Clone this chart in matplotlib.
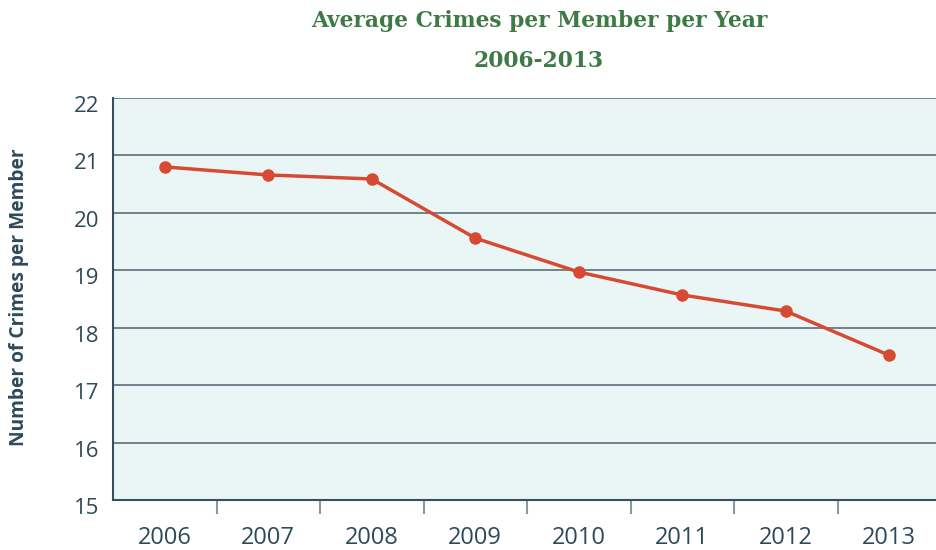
import matplotlib
matplotlib.use("Agg")
import matplotlib.pyplot as plt
import matplotlib.transforms as mtrans

years = ["2006", "2007", "2008", "2009", "2010", "2011", "2012", "2013"]
crimes = [20.80, 20.66, 20.59, 19.56, 18.97, 18.57, 18.29, 17.52]
yticks = [15, 16, 17, 18, 19, 20, 21, 22]

W, H = 937, 550
fig = plt.figure(figsize=(W/100, H/100), dpi=100)
left, right, top, bottom = 113, 941, 98, 500
ax = fig.add_axes([left/W, 1 - bottom/H, (right-left)/W, (bottom-top)/H])
ax.set_facecolor("#eaf6f6")

x = list(range(len(years)))
ax.plot(x, crimes, color="#d64a33", lw=2.5, marker="o", ms=8, zorder=3)

ax.set_xlim(-0.5, len(years) - 0.5)
ax.set_ylim(15, 22)
ax.set_yticks(yticks)
ax.set_yticklabels([str(v) for v in yticks], fontsize=16, color="#2d4a5a", family="Open Sans")
ax.tick_params(axis="y", length=0, pad=10)
off = mtrans.ScaledTranslation(0, -6/100, fig.dpi_scale_trans)
for lab in ax.get_yticklabels():
    lab.set_transform(lab.get_transform() + off)
ax.set_xticks(x)
ax.set_xticklabels(years, fontsize=17, color="#2d4a5a", family="Open Sans")
ax.set_xticks([i + 0.5 for i in x[:-1]], minor=True)
ax.tick_params(axis="x", which="major", length=0, pad=19)
ax.tick_params(axis="x", which="minor", length=10, width=1.5, color="#8a9aa4")
ax.grid(axis="y", color="#5a6e7a", lw=1.2)
for s in ["top", "right"]:
    ax.spines[s].set_visible(False)
for s in ["left", "bottom"]:
    ax.spines[s].set_color("#3a4f5c")
    ax.spines[s].set_linewidth(1.5)
ax.set_axisbelow(True)

ax.set_ylabel("Number of Crimes per Member", fontsize=13.8, fontweight="bold",
              color="#2d4a5a", family="Open Sans")
ax.yaxis.set_label_coords(-(113-29)/(right-left), 0.5 - (297-299)/(bottom-top))

fig.text(539/W, 1 - 21/H, "Average Crimes per Member per Year", ha="center", va="center",
         fontsize=15.7, fontweight="bold", color="#3d7a45", family="DejaVu Serif")
fig.text(539/W, 1 - 61/H, "2006-2013", ha="center", va="center",
         fontsize=15.7, fontweight="bold", color="#3d7a45", family="DejaVu Serif")

fig.savefig("out.png", dpi=100)
